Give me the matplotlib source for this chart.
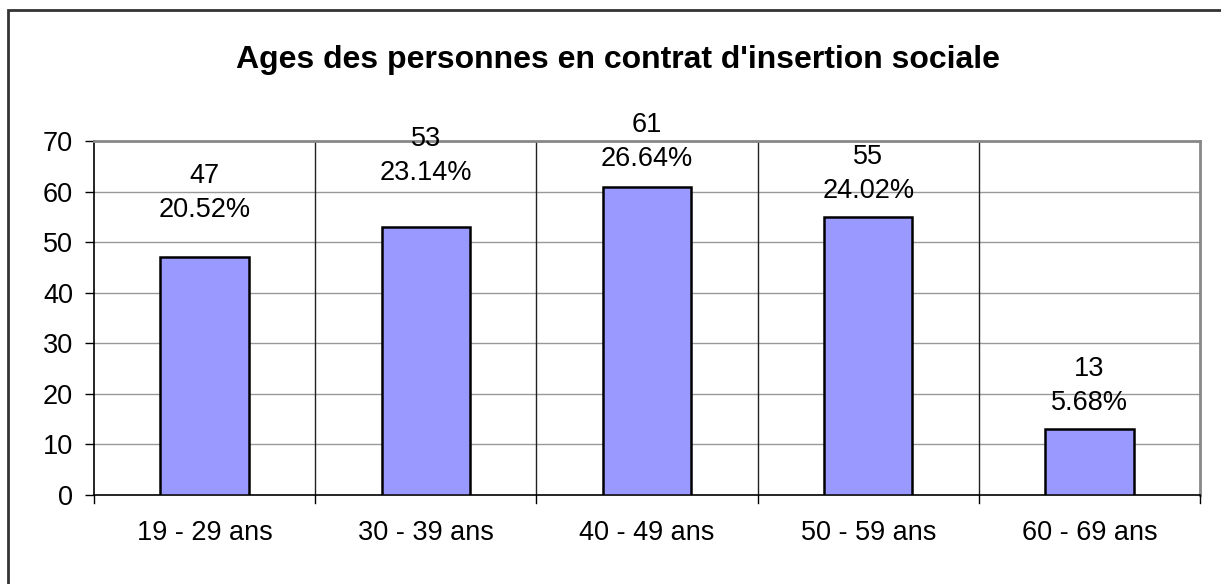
import matplotlib
matplotlib.use("Agg")
import matplotlib.pyplot as plt
from matplotlib.patches import Rectangle

categories = ["19 - 29 ans", "30 - 39 ans", "40 - 49 ans", "50 - 59 ans", "60 - 69 ans"]
values = [47, 53, 61, 55, 13]
percents = ["20.52%", "23.14%", "26.64%", "24.02%", "5.68%"]
yticks = [0, 10, 20, 30, 40, 50, 60, 70]
title = "Ages des personnes en contrat d'insertion sociale"

plt.rcParams['font.family'] = ['Liberation Sans', 'DejaVu Sans']

W, H = 1221, 584
PX = 72 / 100  # points per pixel
fig = plt.figure(figsize=(W / 100, H / 100), dpi=100)
# outer border
fig.patches.append(Rectangle((8 / W, -0.01), 1.2, 1 - 10 / H + 0.01, transform=fig.transFigure,
                             fill=False, edgecolor='#333333', linewidth=2))

left, right, top, bottom = 94, 1200, 141, 495
ax = fig.add_axes([left / W, 1 - bottom / H, (right - left) / W, (bottom - top) / H])

x = list(range(len(categories)))
ax.bar(x, values, width=0.4, color='#9999FF', edgecolor='black', linewidth=1.8, zorder=3)
ax.set_xlim(-0.5, len(categories) - 0.5)
ax.set_ylim(0, 70)

for yv in yticks[1:]:
    ax.axhline(yv, color='#999999', linewidth=1, zorder=1)
for b in [0.5, 1.5, 2.5, 3.5]:
    ax.axvline(b, color='#222222', linewidth=1, zorder=1)

FS = 19.5
ax.set_yticks(yticks)
ax.set_yticklabels([str(v) for v in yticks], fontsize=FS)
ax.set_xticks(x)
ax.set_xticklabels(categories, fontsize=FS)
ax.tick_params(axis='x', length=0, pad=18)
ax.tick_params(axis='y', length=6.5, width=1, direction='out', pad=8.5)
for b in [-0.5, 0.5, 1.5, 2.5, 3.5, 4.5]:
    ax.plot([b, b], [0, -1.6], color='black', linewidth=1, clip_on=False, zorder=4)

ax.spines['left'].set_color('black')
ax.spines['left'].set_linewidth(1.2)
ax.spines['bottom'].set_color('black')
ax.spines['bottom'].set_linewidth(1.2)
ax.spines['top'].set_color('#888888')
ax.spines['top'].set_linewidth(2)
ax.spines['right'].set_color('#888888')
ax.spines['right'].set_linewidth(2)

# label gap above bar (pixels), as placed in the original
gaps = [40, 47, 21, 19, 19]
for xi, v, p, g in zip(x, values, percents, gaps):
    ax.annotate(p, (xi, v), xytext=(0, g * PX), textcoords='offset points',
                ha='center', va='baseline', fontsize=FS, zorder=5)
    ax.annotate(str(v), (xi, v), xytext=(0, (g + 34) * PX), textcoords='offset points',
                ha='center', va='baseline', fontsize=FS, zorder=5)

fig.text(618 / W, 1 - 68 / H, title, ha='center', va='baseline', fontsize=23, fontweight='bold')

fig.savefig("out.png", dpi=100, facecolor='white')
